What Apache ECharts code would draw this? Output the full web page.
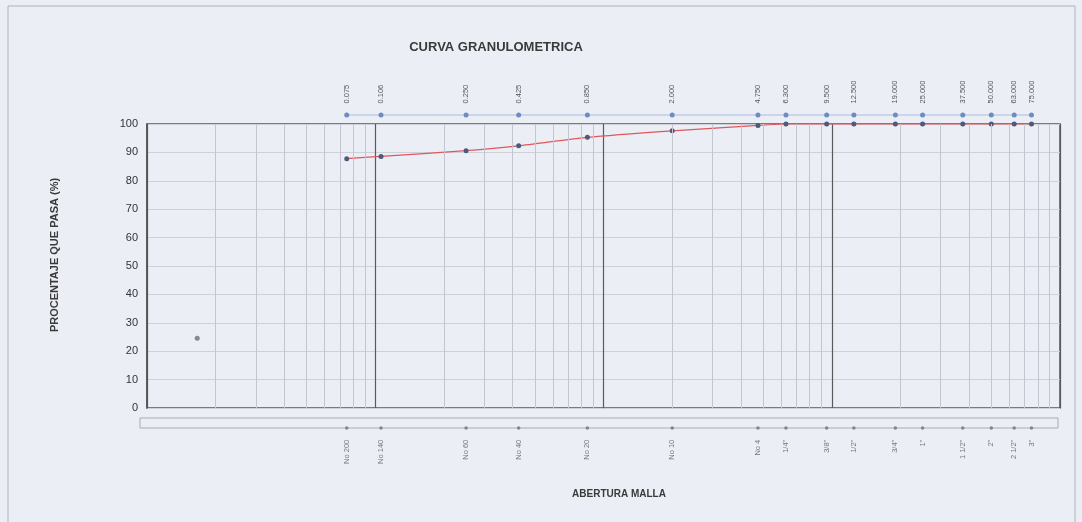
<!DOCTYPE html>
<html>
<head>
<meta charset="utf-8">
<script src="https://cdn.jsdelivr.net/npm/echarts@6/dist/echarts.min.js"></script>
<style>
  html, body { margin: 0; padding: 0; background: #eceef6; }
  #chart { width: 1082px; height: 522px; }
</style>
</head>
<body>
<div id="chart"></div>
<script>
// aberturas de tamiz (mm)
let aberturas = [0.075, 0.106, 0.250, 0.425, 0.850, 2.000, 4.750, 6.300, 9.500, 12.500, 19.000, 25.000, 37.500, 50.000, 63.000, 75.000]
let etiquetasMm = ['0.075', '0.106', '0.250', '0.425', '0.850', '2.000', '4.750', '6.300', '9.500', '12.500', '19.000', '25.000', '37.500', '50.000', '63.000', '75.000']
let mallas = ['No 200', 'No 140', 'No 60', 'No 40', 'No 20', 'No 10', 'No 4', '1/4"', '3/8"', '1/2"', '3/4"', '1"', '1 1/2"', '2"', '2 1/2"', '3"']
// porcentaje que pasa
let pasa = [87.8, 88.6, 90.6, 92.3, 95.3, 97.6, 99.5, 100, 100, 100, 100, 100, 100, 100, 100, 100]
// punto suelto
let puntoSuelto = [[0.0166, 24.6]]

// lineas menores del eje log (2..9 por decada)
let menores = []
;[0.01, 0.1, 1, 10].forEach(d => {
  for (let k = 2; k <= 9; k++) menores.push({ xAxis: +(d * k).toPrecision(3) })
})

let chart = echarts.init(document.getElementById('chart'))
let fuente = 'Liberation Sans, Arial, sans-serif'
let L = 147, R = 22

let option = {
  backgroundColor: '#eceef6',
  animation: false,
  textStyle: { fontFamily: fuente },
  title: {
    text: 'CURVA GRANULOMETRICA',
    left: 491, top: 36, textAlign: 'center',
    textStyle: { fontSize: 13, fontWeight: 'bold', color: '#3a3a3a', fontFamily: fuente }
  },
  graphic: [
    { type: 'rect', shape: { x: 8, y: 6, width: 1067, height: 530 }, style: { fill: 'none', stroke: '#b0b2ba', lineWidth: 1 }, silent: true },
    { type: 'text', x: 619, y: 494, style: { text: 'ABERTURA MALLA', fill: '#3a3a3a', font: 'bold 10px ' + fuente, align: 'center', verticalAlign: 'middle' }, silent: true },
    { type: 'text', x: 55, y: 255, rotation: Math.PI / 2, style: { text: 'PROCENTAJE QUE PASA (%)', fill: '#3a3a3a', font: 'bold 11px ' + fuente, align: 'center', verticalAlign: 'middle' }, silent: true }
  ],
  grid: [
    { left: L, right: R, top: 124, height: 284, show: true, borderColor: '#555', borderWidth: 1.5, backgroundColor: 'transparent' },
    { left: L, right: R, top: 110, height: 10 },
    { left: L, right: R, top: 418, height: 10 },
    { left: 140, right: 24, top: 418, height: 10, show: true, borderColor: '#a9abb3', borderWidth: 1 }
  ],
  xAxis: [
    {
      type: 'log', logBase: 10, min: 0.01, max: 100, gridIndex: 0,
      axisLine: { show: false }, axisTick: { show: false }, axisLabel: { show: false },
      splitLine: { show: true, lineStyle: { color: '#5a5a5a', width: 1.2 } }
    },
    { type: 'log', logBase: 10, min: 0.01, max: 100, gridIndex: 1, show: false },
    { type: 'log', logBase: 10, min: 0.01, max: 100, gridIndex: 2, show: false },
    { type: 'value', gridIndex: 3, show: false }
  ],
  yAxis: [
    {
      type: 'value', min: 0, max: 100, interval: 10, gridIndex: 0,
      axisLine: { show: true, lineStyle: { color: '#555', width: 1.5 } },
      axisTick: { show: false },
      axisLabel: { color: '#333', fontSize: 11, margin: 9, fontFamily: fuente },
      splitLine: { show: true, lineStyle: { color: '#cfd1da', width: 1 } }
    },
    { type: 'value', min: 0, max: 1, gridIndex: 1, show: false },
    { type: 'value', min: 0, max: 1, gridIndex: 2, show: false },
    { type: 'value', gridIndex: 3, show: false }
  ],
  series: [
    {
      name: 'menores', type: 'line', xAxisIndex: 0, yAxisIndex: 0, data: [],
      markLine: {
        silent: true, symbol: 'none', label: { show: false },
        lineStyle: { color: '#c3c5d0', width: 1, type: 'solid' },
        data: menores
      }
    },
    {
      name: 'pasa', type: 'line', xAxisIndex: 0, yAxisIndex: 0,
      data: aberturas.map((a, i) => [a, pasa[i]]),
      smooth: 0.2, clip: false,
      lineStyle: { color: '#e0575c', width: 1.2 },
      symbol: 'circle', symbolSize: 5,
      itemStyle: { color: '#4d5b7a' }
    },
    {
      name: 'suelto', type: 'scatter', xAxisIndex: 0, yAxisIndex: 0,
      data: puntoSuelto, symbolSize: 5, itemStyle: { color: '#6a6f80' }
    },
    {
      name: 'mm', type: 'line', xAxisIndex: 1, yAxisIndex: 1,
      data: aberturas.map(a => [a, 0.5]),
      lineStyle: { color: '#a9bde0', width: 1 },
      symbol: 'circle', symbolSize: 5, itemStyle: { color: '#6d8cc4' },
      label: {
        show: true, position: 'top', rotate: 90, align: 'left', verticalAlign: 'middle',
        distance: 9, fontSize: 7.5, color: '#555', fontFamily: fuente,
        formatter: p => etiquetasMm[p.dataIndex]
      }
    },
    {
      name: 'malla', type: 'scatter', xAxisIndex: 2, yAxisIndex: 2,
      data: aberturas.map(a => [a, 0]),
      symbolSize: 3.5, itemStyle: { color: '#6a6f80' },
      label: {
        show: true, position: 'bottom', rotate: 90, align: 'right', verticalAlign: 'middle',
        distance: 10, fontSize: 7.5, color: '#555', fontFamily: fuente,
        formatter: p => mallas[p.dataIndex]
      }
    }
  ]
}
chart.setOption(option)
</script>
</body>
</html>
